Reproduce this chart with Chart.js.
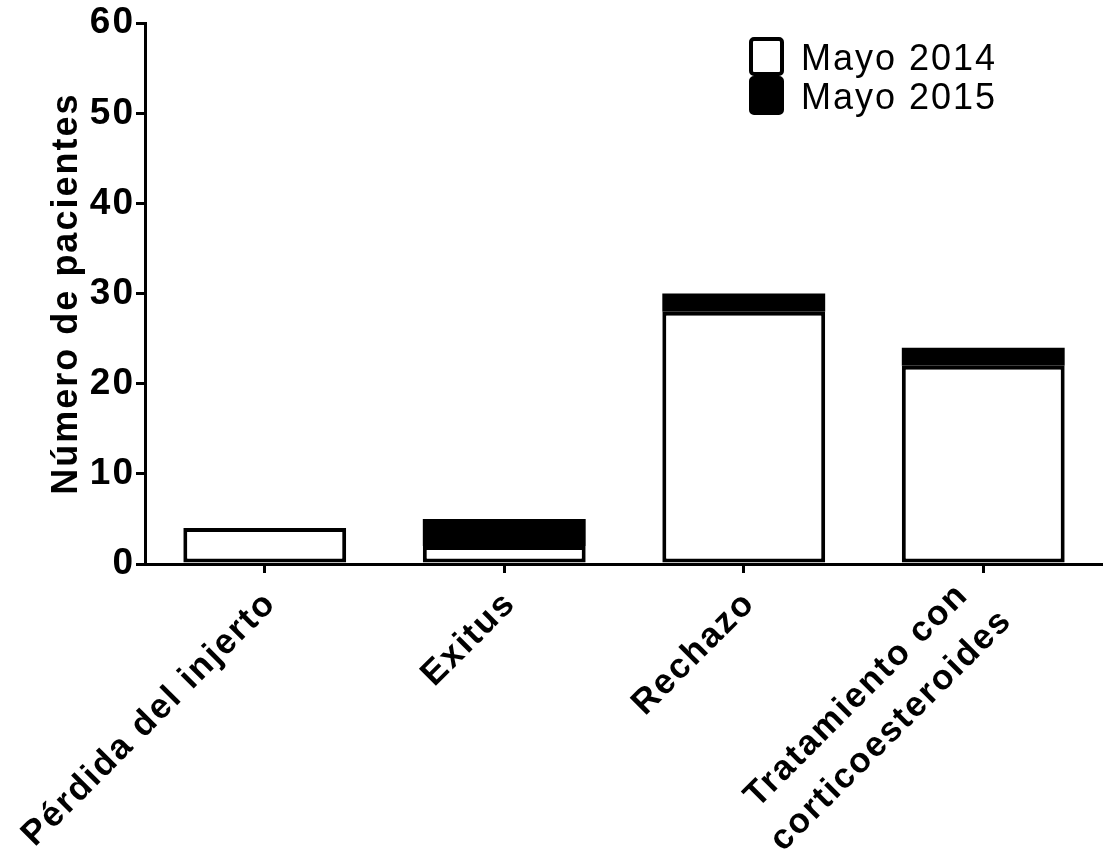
<!DOCTYPE html>
<html>
<head>
<meta charset="utf-8">
<script src="https://cdn.jsdelivr.net/npm/chart.js@4.4.1/dist/chart.umd.min.js"></script>
<style>
  html, body { margin: 0; padding: 0; background: #ffffff; }
  #wrap { width: 1103px; height: 862px; }
</style>
</head>
<body>
<div id="wrap"><canvas id="chart" width="1103" height="862"></canvas></div>
<script>
// Patient counts per outcome, stacked by review date
const categories = ['Pérdida del injerto', 'Exitus', 'Rechazo', ['Tratamiento con', 'corticoesteroides']];
const mayo2014 = [4, 2, 28, 22];
const mayo2015 = [0, 3, 2, 2];
const seriesNames = ['Mayo 2014', 'Mayo 2015'];
const yTicks = [0, 10, 20, 30, 40, 50, 60];
const yTitle = 'Número de pacientes';

const FONT = 'Arial, "Liberation Sans", Helvetica, sans-serif';

// Slightly open lettering used by the axis text
const letterSpacing = {
  id: 'letterSpacing',
  beforeDraw(chart) { chart.ctx.letterSpacing = '2px'; }
};

// Category labels at 45 degrees, multi-line labels centred line by line
const slantedLabels = {
  id: 'slantedLabels',
  afterDraw(chart) {
    const scale = chart.scales.x;
    const ctx = chart.ctx;
    const pitch = 49;
    ctx.save();
    ctx.fillStyle = '#000';
    ctx.font = 'bold 35px ' + FONT;
    ctx.letterSpacing = '2px';
    ctx.textBaseline = 'middle';
    ctx.textAlign = 'center';
    scale.ticks.forEach((t, i) => {
      const label = chart.data.labels[i];
      const lines = Array.isArray(label) ? label : [label];
      const widths = lines.map(l => ctx.measureText(l).width);
      const W = Math.max(...widths);
      ctx.save();
      ctx.translate(scale.getPixelForTick(i) + 6, scale.top + 34);
      ctx.rotate(-Math.PI / 4);
      lines.forEach((l, k) => {
        ctx.fillText(l, -W / 2, (k - (lines.length - 1) / 2) * pitch);
      });
      ctx.restore();
    });
    ctx.restore();
  }
};

// Legend drawn as two stacked square swatches with labels
const boxLegend = {
  id: 'boxLegend',
  afterDraw(chart) {
    const ctx = chart.ctx;
    const left = 751, top = 39, w = 31, h = 35, gap = 4;
    ctx.save();
    ctx.letterSpacing = '2px';
    chart.data.datasets.forEach((ds, i) => {
      const y = top + i * (h + gap);
      ctx.beginPath();
      ctx.roundRect(left, y, w, h, 3);
      ctx.fillStyle = ds.backgroundColor;
      ctx.fill();
      ctx.lineWidth = 4;
      ctx.strokeStyle = '#000';
      ctx.stroke();
      ctx.fillStyle = '#000';
      ctx.font = '36px ' + FONT;
      ctx.textAlign = 'left';
      ctx.textBaseline = 'alphabetic';
      ctx.fillText(ds.label, 801, y + 31);
    });
    ctx.restore();
  }
};

new Chart(document.getElementById('chart'), {
  type: 'bar',
  data: {
    labels: categories,
    datasets: [
      {
        label: seriesNames[0],
        data: mayo2014,
        backgroundColor: '#ffffff',
        borderColor: '#000000',
        borderWidth: 4,
        borderSkipped: false
      },
      {
        label: seriesNames[1],
        data: mayo2015,
        backgroundColor: '#000000',
        borderWidth: 0
      }
    ]
  },
  options: {
    responsive: false,
    animation: false,
    devicePixelRatio: 1,
    layout: { autoPadding: false, padding: { top: 21, right: -3, left: 0, bottom: 0 } },
    plugins: { legend: { display: false }, tooltip: { enabled: false } },
    datasets: { bar: { categoryPercentage: 1, barPercentage: 0.68 } },
    scales: {
      x: {
        stacked: true,
        offset: true,
        grid: { display: true, drawOnChartArea: false, offset: false, drawTicks: true, tickLength: 9, color: '#000', lineWidth: 3 },
        border: { display: true, color: '#000', width: 3 },
        ticks: { display: false, autoSkip: false },
        afterFit(scale) { scale.height = 298; }
      },
      y: {
        stacked: true,
        min: 0, max: 60,
        afterBuildTicks(scale) { scale.ticks = yTicks.map(v => ({ value: v })); },
        grid: { display: true, drawOnChartArea: false, drawTicks: true, tickLength: 9, color: '#000', lineWidth: 3 },
        border: { display: true, color: '#000', width: 3 },
        ticks: {
          color: '#000',
          font: { family: FONT, size: 37, weight: 'bold' },
          padding: 1
        },
        title: {
          display: true,
          text: yTitle,
          color: '#000',
          font: { family: FONT, size: 36, weight: 'bold' },
          padding: { top: 45, bottom: 0 }
        },
        afterFit(scale) { scale.width = 145; }
      }
    }
  },
  plugins: [letterSpacing, slantedLabels, boxLegend]
});
</script>
</body>
</html>
